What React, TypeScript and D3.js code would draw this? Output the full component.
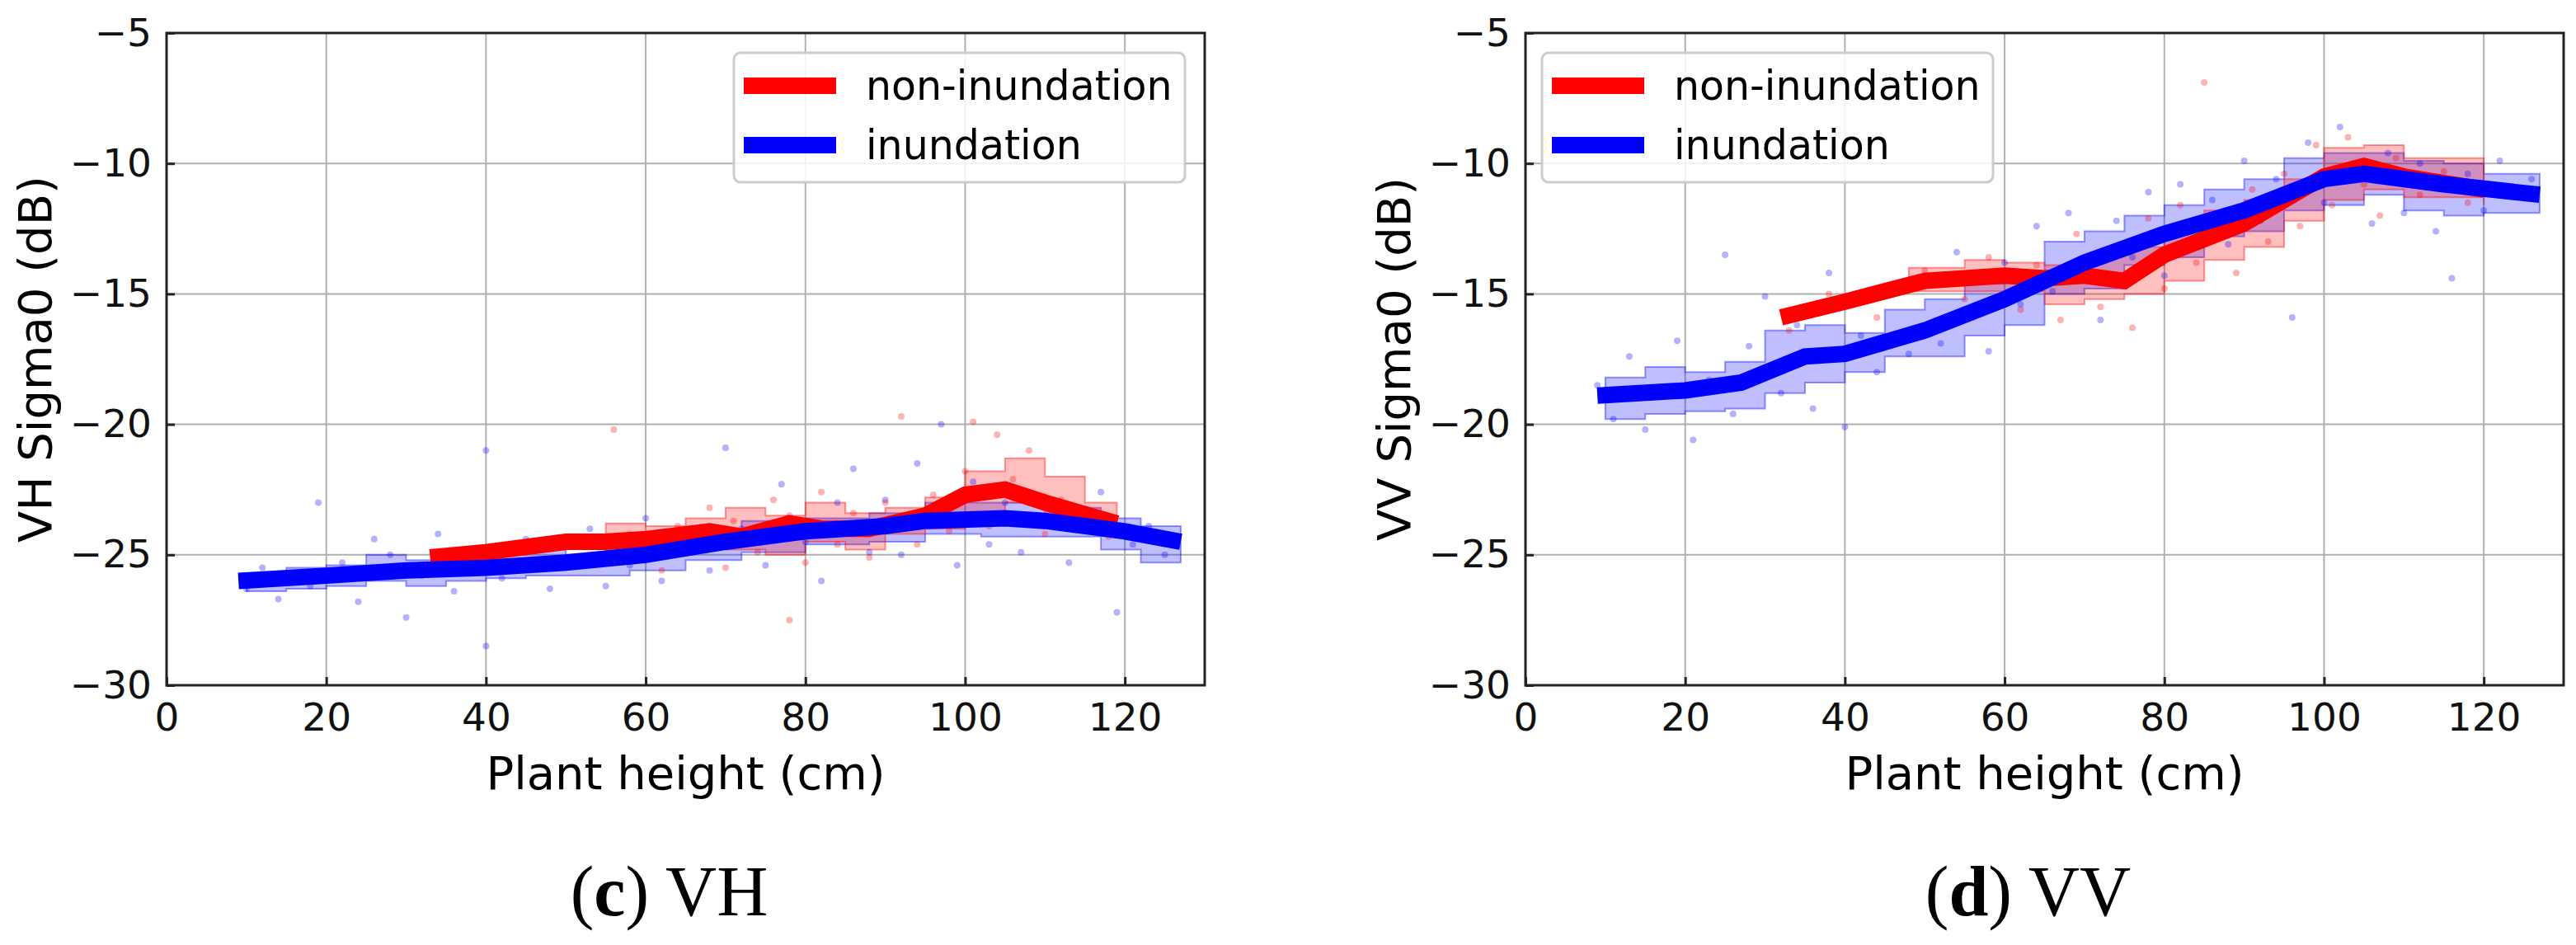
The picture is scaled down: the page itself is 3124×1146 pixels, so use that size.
import React, { useEffect, useRef } from "react";
import * as d3 from "d3";

// ---- data ----
const xTicks = [0, 20, 40, 60, 80, 100, 120];
const yTicks = [-5, -10, -15, -20, -25, -30];

const vhRedLine = [[33, -25.1], [40, -24.9], [50, -24.5], [55, -24.5], [60, -24.4], [68, -24.1], [72, -24.3], [78, -23.8], [82, -24.0], [88, -24.0], [95, -23.5], [100, -22.7], [105, -22.5], [110, -23.0], [119, -23.8]];
const vhBlueLine = [[9, -26.0], [20, -25.8], [30, -25.6], [40, -25.5], [50, -25.3], [60, -25.0], [70, -24.5], [80, -24.1], [90, -23.9], [95, -23.7], [105, -23.6], [110, -23.7], [120, -24.1], [127, -24.5]];
const vhRedBand = [[55, -24.9, -23.8], [60, -24.9, -23.9], [65, -24.7, -23.6], [70, -24.8, -23.2], [75, -25.0, -23.5], [80, -24.5, -23.0], [85, -24.8, -23.4], [90, -24.2, -23.2], [95, -24.0, -22.8], [100, -23.4, -21.8], [105, -23.0, -21.3], [110, -23.5, -22.0], [115, -24.0, -23.0], [119, -24.2, -23.4]];
const vhBlueBand = [[10, -26.4, -25.7], [15, -26.3, -25.5], [20, -26.2, -25.4], [25, -26.0, -25.0], [30, -26.2, -25.2], [35, -26.0, -25.2], [40, -25.9, -25.0], [45, -25.8, -24.8], [50, -25.8, -25.0], [58, -25.6, -24.6], [65, -25.2, -24.2], [72, -24.9, -23.7], [80, -24.6, -23.6], [88, -24.5, -23.4], [95, -24.2, -23.0], [102, -24.3, -23.0], [110, -24.3, -23.2], [117, -24.8, -23.6], [122, -25.3, -23.9], [127, -24.8, -24.2]];
const vhRedPts = [[42, -25.2], [48, -24.6], [54, -25.1], [56, -20.2], [58, -24.2], [62, -25.6], [64, -23.9], [66, -24.8], [68, -23.2], [70, -25.5], [71, -23.7], [74, -24.9], [76, -22.9], [78, -27.5], [78, -23.5], [80, -25.3], [82, -22.6], [84, -24.6], [86, -23.4], [88, -25.1], [90, -23.0], [92, -19.7], [94, -24.6], [96, -22.7], [98, -24.1], [100, -21.8], [101, -19.9], [103, -23.9], [104, -20.4], [106, -22.1], [108, -21.0], [110, -24.2], [112, -22.9], [115, -23.6], [118, -24.3]];
const vhBluePts = [[10, -26.3], [12, -25.5], [14, -26.7], [16, -25.9], [18, -26.2], [19, -23.0], [22, -25.3], [24, -26.8], [26, -24.4], [28, -25.0], [30, -27.4], [32, -25.8], [34, -24.2], [36, -26.4], [38, -25.3], [40, -21.0], [40, -28.5], [42, -25.9], [45, -24.4], [48, -26.3], [50, -25.1], [53, -24.0], [55, -26.2], [58, -25.4], [60, -23.6], [62, -26.0], [65, -24.7], [68, -25.6], [70, -20.9], [72, -24.0], [75, -25.4], [77, -22.3], [80, -24.5], [82, -26.0], [84, -23.0], [86, -21.7], [88, -24.9], [90, -22.9], [92, -25.0], [94, -21.5], [96, -23.3], [97, -20.0], [99, -25.4], [101, -22.2], [103, -24.6], [105, -23.0], [107, -24.9], [110, -22.8], [113, -25.3], [115, -24.0], [117, -22.6], [119, -27.2], [121, -24.6], [123, -23.9], [125, -25.0]];

const vvRedLine = [[32, -15.9], [40, -15.3], [50, -14.5], [60, -14.3], [65, -14.4], [70, -14.3], [75, -14.5], [80, -13.5], [90, -12.3], [100, -10.5], [105, -10.1], [110, -10.5], [120, -11.0]];
const vvBlueLine = [[9, -18.9], [20, -18.7], [27, -18.4], [35, -17.4], [40, -17.3], [50, -16.4], [60, -15.2], [70, -13.8], [80, -12.7], [90, -11.8], [100, -10.6], [105, -10.4], [115, -10.8], [127, -11.2]];
const vvRedBand = [[48, -14.9, -14.0], [55, -14.9, -13.7], [60, -14.9, -13.8], [65, -15.4, -13.9], [70, -15.2, -13.5], [75, -15.0, -13.2], [80, -14.5, -12.4], [85, -13.7, -11.8], [90, -13.2, -11.4], [95, -12.2, -10.6], [100, -11.4, -9.4], [105, -11.0, -9.3], [110, -11.3, -9.8], [120, -11.6, -10.6]];
const vvBlueBand = [[10, -19.8, -18.2], [15, -19.6, -17.8], [20, -19.5, -18.0], [25, -19.4, -17.6], [30, -18.8, -16.4], [35, -18.4, -16.2], [40, -18.0, -16.5], [45, -17.4, -15.6], [50, -17.4, -15.2], [55, -16.6, -14.6], [60, -16.2, -14.2], [65, -15.0, -13.0], [70, -14.8, -12.6], [75, -13.9, -12.0], [80, -13.6, -11.6], [85, -12.8, -11.0], [90, -12.6, -10.6], [95, -11.8, -9.8], [100, -11.6, -9.6], [105, -11.2, -9.6], [110, -11.8, -9.9], [115, -12.0, -10.0], [120, -11.9, -10.4], [127, -11.6, -10.8]];
const vvRedPts = [[33, -16.4], [38, -15.0], [44, -15.9], [50, -14.1], [55, -15.2], [58, -13.6], [62, -15.6], [64, -13.9], [67, -16.0], [69, -12.7], [72, -15.5], [74, -13.2], [76, -16.3], [78, -12.1], [80, -14.8], [82, -11.6], [84, -13.8], [85, -6.9], [87, -12.6], [89, -14.2], [91, -11.0], [93, -13.0], [95, -10.4], [97, -12.4], [99, -9.3], [101, -11.6], [103, -9.0], [105, -10.8], [107, -12.0], [109, -9.8], [112, -11.2], [115, -10.3], [118, -11.5]];
const vvBluePts = [[9, -18.5], [11, -19.8], [13, -17.4], [15, -20.2], [17, -18.9], [19, -16.8], [21, -20.6], [23, -18.3], [25, -13.5], [26, -19.6], [28, -17.0], [30, -15.1], [32, -18.8], [34, -16.2], [36, -19.4], [38, -14.2], [40, -20.1], [42, -16.6], [44, -18.0], [46, -15.0], [48, -17.3], [50, -14.6], [52, -16.9], [54, -13.4], [56, -15.9], [58, -17.2], [60, -13.8], [62, -15.4], [64, -12.4], [66, -14.9], [68, -11.9], [70, -14.0], [72, -16.0], [74, -12.2], [76, -13.6], [78, -11.1], [80, -14.3], [82, -10.8], [84, -12.9], [86, -11.4], [88, -13.1], [90, -9.9], [92, -12.2], [94, -10.6], [96, -15.9], [98, -9.2], [100, -11.5], [102, -8.6], [104, -10.2], [106, -12.3], [108, -9.6], [110, -11.9], [112, -10.0], [114, -12.6], [116, -14.4], [118, -10.4], [120, -11.8], [122, -9.9], [124, -11.1], [126, -10.6]];

const panels = [
  { left: 202, yLabel: "VH Sigma0 (dB)", caption: ["c", " VH"], red: vhRedLine, blue: vhBlueLine, redBand: vhRedBand, blueBand: vhBlueBand, redPts: vhRedPts, bluePts: vhBluePts, legendX: 890 },
  { left: 1850, yLabel: "VV Sigma0 (dB)", caption: ["d", " VV"], red: vvRedLine, blue: vvBlueLine, redBand: vvRedBand, blueBand: vvBlueBand, redPts: vvRedPts, bluePts: vvBluePts, legendX: 1870 },
];

export default function App() {
  const svgRef = useRef(null);

  useEffect(() => {
    const svg = d3.select(svgRef.current);
    svg.selectAll("*").remove();
    const W = 1259, top = 40, bottom = 831;
    const font = "DejaVu Sans";

    panels.forEach(p => {
      const x = d3.scaleLinear().domain([0, 130]).range([p.left, p.left + W]);
      const y = d3.scaleLinear().domain([-30, -5]).range([bottom, top]);
      const g = svg.append("g");

      // grid
      xTicks.forEach(t => g.append("line").attr("x1", x(t)).attr("x2", x(t)).attr("y1", top).attr("y2", bottom).attr("stroke", "#b0b0b0").attr("stroke-width", 2));
      yTicks.forEach(t => g.append("line").attr("x1", p.left).attr("x2", p.left + W).attr("y1", y(t)).attr("y2", y(t)).attr("stroke", "#b0b0b0").attr("stroke-width", 2));

      const area = d3.area().x(d => x(d[0])).y0(d => y(d[1])).y1(d => y(d[2])).curve(d3.curveStepAfter);
      g.append("path").datum(p.blueBand).attr("d", area).attr("fill", "blue").attr("fill-opacity", 0.25).attr("stroke", "blue").attr("stroke-opacity", 0.4).attr("stroke-width", 2);
      g.append("path").datum(p.redBand).attr("d", area).attr("fill", "red").attr("fill-opacity", 0.25).attr("stroke", "red").attr("stroke-opacity", 0.4).attr("stroke-width", 2);

      g.selectAll(".bp").data(p.bluePts).enter().append("circle").attr("cx", d => x(d[0])).attr("cy", d => y(d[1])).attr("r", 4).attr("fill", "blue").attr("opacity", 0.3);
      g.selectAll(".rp").data(p.redPts).enter().append("circle").attr("cx", d => x(d[0])).attr("cy", d => y(d[1])).attr("r", 4).attr("fill", "red").attr("opacity", 0.3);

      const line = d3.line().x(d => x(d[0])).y(d => y(d[1]));
      g.append("path").datum(p.red).attr("d", line).attr("fill", "none").attr("stroke", "red").attr("stroke-width", 20);
      g.append("path").datum(p.blue).attr("d", line).attr("fill", "none").attr("stroke", "blue").attr("stroke-width", 20);

      // frame
      g.append("rect").attr("x", p.left).attr("y", top).attr("width", W).attr("height", bottom - top).attr("fill", "none").attr("stroke", "#222").attr("stroke-width", 3);

      // axes, ticks inward
      const xa = g.append("g").attr("transform", `translate(0,${bottom})`).call(d3.axisBottom(x).tickValues(xTicks).tickSizeInner(-10).tickSizeOuter(0).tickPadding(22));
      const ya = g.append("g").attr("transform", `translate(${p.left},0)`).call(d3.axisLeft(y).tickValues(yTicks).tickSizeInner(-10).tickSizeOuter(0).tickPadding(18).tickFormat(d => String(d).replace("-", "\u2212")));
      [xa, ya].forEach(a => {
        a.select(".domain").remove();
        a.selectAll("line").attr("stroke", "#222").attr("stroke-width", 3);
        a.selectAll("text").attr("font-family", font).attr("font-size", 47).attr("fill", "#111");
      });

      g.append("text").attr("x", p.left + W / 2).attr("y", 957).attr("text-anchor", "middle").attr("font-family", font).attr("font-size", 56).text("Plant height (cm)");
      g.append("text").attr("transform", `translate(${p.left - 140},${(top + bottom) / 2}) rotate(-90)`).attr("text-anchor", "middle").attr("font-family", font).attr("font-size", 56).text(p.yLabel);

      // legend
      const lg = g.append("g").attr("transform", `translate(${p.legendX},64)`);
      lg.append("rect").attr("width", 547).attr("height", 157).attr("rx", 8).attr("fill", "white").attr("fill-opacity", 0.85).attr("stroke", "#ccc").attr("stroke-width", 3);
      [["red", "non-inundation", 40], ["blue", "inundation", 112]].forEach(([c, t, yy]) => {
        lg.append("line").attr("x1", 12).attr("x2", 124).attr("y1", yy).attr("y2", yy).attr("stroke", c).attr("stroke-width", 20);
        lg.append("text").attr("x", 160).attr("y", +yy + 17).attr("font-family", font).attr("font-size", 49).text(t);
      });

      // caption
      const cap = svg.append("text").attr("x", p.left + W / 2 - 20).attr("y", 1110).attr("text-anchor", "middle").attr("font-family", "Liberation Serif").attr("font-size", 86);
      cap.append("tspan").text("(");
      cap.append("tspan").attr("font-weight", "bold").text(p.caption[0]);
      cap.append("tspan").text(")" + p.caption[1]);
    });
  }, []);

  return <svg ref={svgRef} width={3124} height={1146} style={{ position: "absolute", left: 0, top: 0, background: "white" }}></svg>;
}
